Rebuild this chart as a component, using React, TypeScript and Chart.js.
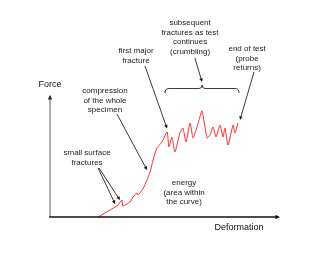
import React, { useEffect, useRef } from "react";
import { Chart, registerables } from "chart.js";

Chart.register(...registerables);

// Deformation (x) and force (y) readings of the curve, arbitrary units 0..100
const deformation = [
  20.9, 28.3, 29.6, 31.3, 31.7, 34.8, 36.1, 37.8, 38.3, 40.0, 40.4, 42.2, 43.5, 44.8,
  46.5, 48.7, 50.9, 51.7, 53.0, 54.3, 56.5, 57.8, 59.1, 60.9, 62.2, 63.9, 64.8, 66.1,
  68.3, 69.6, 70.9, 72.2, 73.9, 75.2, 76.1, 77.4, 79.6, 80.4, 81.7,
];
const force = [
  0, 8.2, 9.8, 13.9, 9.0, 12.3, 16.4, 19.7, 18.0, 22.1, 23.0, 30.3, 36.9, 46.7,
  56.6, 61.5, 69.7, 57.4, 65.6, 53.3, 68.9, 73.0, 61.5, 77.0, 64.8, 73.8, 79.5, 86.9,
  64.8, 67.2, 73.8, 65.6, 75.4, 65.6, 73.0, 59.0, 75.4, 68.9, 77.0,
];

const axisTitles = { x: "Deformation", y: "Force" };

// Annotation texts (positions in data units, centre of first line)
const labelTexts = [
  { lines: ["first major", "fracture"], x: 37.4, y: 136.1 },
  { lines: ["compression", "of the whole", "specimen"], x: 23.9, y: 103.3 },
  { lines: ["subsequent", "fractures as test", "continues", "(crumbling)"], x: 60.9, y: 159 },
  { lines: ["end of test", "(probe", "returns)"], x: 85.7, y: 137.7 },
  { lines: ["small surface", "fractures"], x: 16.1, y: 52.5 },
  { lines: ["energy", "(area within", "the curve)"], x: 58.3, y: 27.9 },
];

// Arrows: [fromX, fromY, toX, toY] in data units
const arrows = [
  [41.3, 123.8, 50.9, 72.5],
  [29.1, 84.4, 42.2, 38.5],
  [20.9, 40.2, 28.3, 10.7],
  [21.3, 40.2, 30.4, 13.9],
  [63.0, 130.3, 66.1, 110.7],
  [88.7, 118.9, 82.6, 79.5],
];

// Brace spanning the crumbling region: [x0, x1, xMid, yBase, yTip]
const brace = [50.0, 82.2, 66.1, 101.6, 108.2];

function arrowHead(ctx: CanvasRenderingContext2D, x0: number, y0: number, x1: number, y1: number, size: number, color: string) {
  const a = Math.atan2(y1 - y0, x1 - x0);
  ctx.save();
  ctx.fillStyle = color;
  ctx.beginPath();
  ctx.moveTo(x1, y1);
  ctx.lineTo(x1 - size * Math.cos(a - 0.45), y1 - size * Math.sin(a - 0.45));
  ctx.lineTo(x1 - size * Math.cos(a + 0.45), y1 - size * Math.sin(a + 0.45));
  ctx.closePath();
  ctx.fill();
  ctx.restore();
}

const annotationPlugin = {
  id: "annotations",
  afterDraw(chart: any) {
    const ctx: CanvasRenderingContext2D = chart.ctx;
    const xs = chart.scales.x;
    const ys = chart.scales.y;
    const px = (v: number) => xs.getPixelForValue(v);
    const py = (v: number) => ys.getPixelForValue(v);
    ctx.save();

    // axes
    const x0 = px(0), y0 = py(0), xEnd = px(100), yEnd = py(100);
    ctx.strokeStyle = "#999";
    ctx.lineWidth = 1.6;
    ctx.beginPath();
    ctx.moveTo(x0, y0);
    ctx.lineTo(x0, yEnd + 3);
    ctx.stroke();
    arrowHead(ctx, x0, y0, x0, yEnd, 5, "#222");
    ctx.strokeStyle = "#111";
    ctx.beginPath();
    ctx.moveTo(x0 - 0.8, y0);
    ctx.lineTo(xEnd - 3, y0);
    ctx.stroke();
    arrowHead(ctx, x0, y0, xEnd, y0, 5, "#111");

    // axis titles
    ctx.fillStyle = "#111";
    ctx.textAlign = "center";
    ctx.textBaseline = "middle";
    ctx.font = "9px 'Liberation Sans', Arial, sans-serif";
    ctx.fillText(axisTitles.y, px(0), py(109));
    ctx.fillText(axisTitles.x, px(82.2), py(-9));

    // labels
    ctx.font = "8px 'Liberation Sans', Arial, sans-serif";
    ctx.fillStyle = "#222";
    for (const l of labelTexts) {
      l.lines.forEach((t, i) => ctx.fillText(t, px(l.x), py(l.y) + i * 9.5));
    }

    // arrows
    ctx.strokeStyle = "#222";
    ctx.lineWidth = 0.9;
    for (const [a, b, c, d] of arrows) {
      const sx = px(a), sy = py(b), ex = px(c), ey = py(d);
      const ang = Math.atan2(ey - sy, ex - sx);
      ctx.beginPath();
      ctx.moveTo(sx, sy);
      ctx.lineTo(ex - 2 * Math.cos(ang), ey - 2 * Math.sin(ang));
      ctx.stroke();
      arrowHead(ctx, sx, sy, ex, ey, 4, "#111");
    }

    // brace
    const [bx0, bx1, bxm, byb, byt] = brace;
    const X0 = px(bx0), X1 = px(bx1), XM = px(bxm), YB = py(byb), YT = py(byt);
    const YH = (YB + YT) / 2 - 0.5;
    ctx.lineWidth = 0.9;
    ctx.beginPath();
    ctx.moveTo(X0, YB);
    ctx.quadraticCurveTo(X0, YH, X0 + 4, YH);
    ctx.lineTo(XM - 3, YH);
    ctx.quadraticCurveTo(XM, YH, XM, YT);
    ctx.quadraticCurveTo(XM, YH, XM + 3, YH);
    ctx.lineTo(X1 - 4, YH);
    ctx.quadraticCurveTo(X1, YH, X1, YB);
    ctx.stroke();

    ctx.restore();
  },
};

export default function App() {
  const ref = useRef<HTMLCanvasElement | null>(null);
  useEffect(() => {
    if (!ref.current) return;
    const chart = new Chart(ref.current, {
      type: "scatter",
      data: {
        datasets: [
          {
            data: deformation.map((x, i) => ({ x, y: force[i] })),
            showLine: true,
            borderColor: "#ff2a2a",
            borderWidth: 1,
            pointRadius: 0,
            tension: 0.2,
          },
        ],
      },
      options: {
        responsive: false,
        animation: false,
        layout: { padding: { left: 50, right: 40, top: 95, bottom: 36 } },
        plugins: { legend: { display: false }, tooltip: { enabled: false } },
        scales: {
          x: { type: "linear", min: 0, max: 100, display: false },
          y: { type: "linear", min: 0, max: 100, display: false },
        },
      },
      plugins: [annotationPlugin],
    });
    return () => chart.destroy();
  }, []);
  return (
    <div style={{ position: "fixed", left: 0, top: 0, width: 320, height: 253, background: "#fff" }}>
      <canvas ref={ref} width={320} height={253} />
    </div>
  );
}
